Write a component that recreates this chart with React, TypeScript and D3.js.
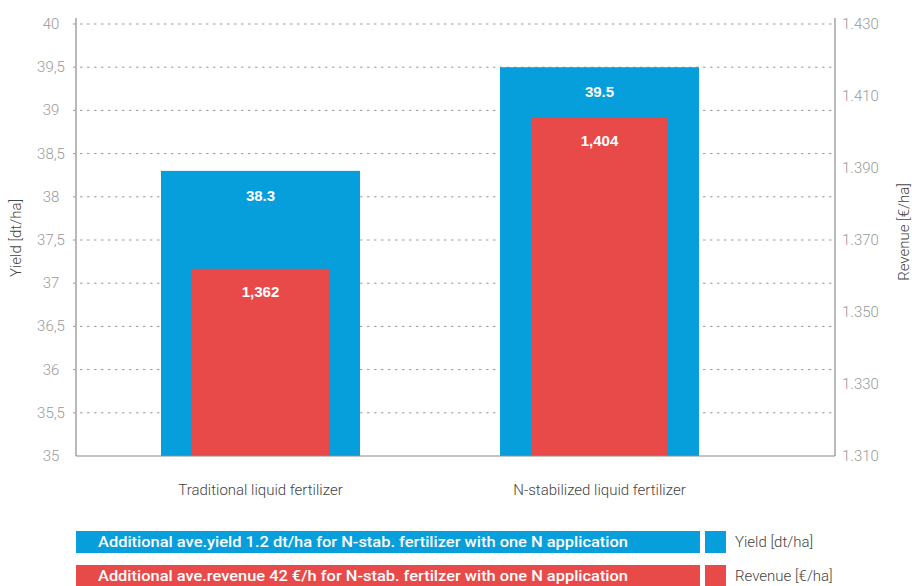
import React, { useEffect } from 'react';
import * as d3 from 'd3';

// data
const categories = ['Traditional liquid fertilizer', 'N-stabilized liquid fertilizer'];
const yieldValues = [38.3, 39.5];
const revenueValues = [1362, 1404];
const yieldTicks = [35, 35.5, 36, 36.5, 37, 37.5, 38, 38.5, 39, 39.5, 40];
const revenueTicks = [1310, 1330, 1350, 1370, 1390, 1410, 1430];
const notes = [
  'Additional ave.yield 1.2 dt/ha for N-stab. fertilizer with one N application',
  'Additional ave.revenue 42 €/h for N-stab. fertilzer with one N application',
];
const legendLabels = ['Yield [dt/ha]', 'Revenue [€/ha]'];

const BLUE = '#069edb';
const RED = '#e84a4a';
const AXIS = '#8a8a8a';
const FONT = '"Liberation Sans", Arial, sans-serif';
const LIGHT = 'Roboto, "Liberation Sans", sans-serif';

const deLocale = d3.formatLocale({ decimal: ',', thousands: '.', grouping: [3], currency: ['', '€'] });
const fmtLeft = deLocale.format('~g');
const fmtRight = deLocale.format(',.0f');
const fmtRevenue = d3.format(',.0f');

const App = () => {
  useEffect(() => {
    document.body.style.margin = '0';
  }, []);

  const left = 76, right = 835, top = 24, bottom = 456;

  const y = d3.scaleLinear().domain([35, 40]).range([bottom, top]);
  const yR = d3.scaleLinear().domain([1310, 1430]).range([bottom, top]);
  const x = d3.scaleBand<string>().domain(categories).range([161, 699]).paddingInner(0.413).paddingOuter(0);
  const bw = x.bandwidth();
  const redW = 137;

  const colors = [BLUE, RED];

  return (
    <svg width={912} height={586} style={{ display: 'block', fontFamily: FONT }}>
      {/* grid */}
      {yieldTicks.filter(t => t > 35).map(t => (
        <line key={'g' + t} x1={left - 3} x2={right - 2} y1={y(t)} y2={y(t)}
          stroke="#9a9a9a" strokeWidth={1} strokeDasharray="2.5,4.5" />
      ))}

      {/* bars */}
      {categories.map((c, i) => {
        const x0 = x(c)!;
        const cx = x0 + bw / 2;
        return (
          <g key={c}>
            <rect x={x0} y={y(yieldValues[i])} width={bw} height={bottom - y(yieldValues[i])} fill={BLUE} />
            <rect x={cx - redW / 2} y={yR(revenueValues[i])} width={redW} height={bottom - yR(revenueValues[i])} fill={RED} />
            <text x={cx} y={y(yieldValues[i]) + 30} textAnchor="middle" fill="#fff" fontWeight="bold" fontSize={15}>
              {yieldValues[i].toFixed(1)}
            </text>
            <text x={cx} y={yR(revenueValues[i]) + 28} textAnchor="middle" fill="#fff" fontWeight="bold" fontSize={15}>
              {fmtRevenue(revenueValues[i])}
            </text>
            <text x={cx} y={495} textAnchor="middle" fill="#444" fontSize={15} fontFamily={LIGHT} fontWeight={300}>{c}</text>
          </g>
        );
      })}

      {/* axes */}
      <line x1={left} x2={left} y1={18} y2={bottom} stroke={AXIS} strokeWidth={1.2} />
      <line x1={right} x2={right} y1={18} y2={bottom} stroke={AXIS} strokeWidth={1.2} />
      <line x1={left} x2={right} y1={bottom} y2={bottom} stroke={AXIS} strokeWidth={1.2} />

      {yieldTicks.map(t => (
        <text key={'l' + t} x={51} y={y(t) + 5} textAnchor="middle" fill="#999" fontSize={15} fontFamily={LIGHT} fontWeight={300}>
          {fmtLeft(t)}
        </text>
      ))}
      {revenueTicks.map(t => (
        <text key={'r' + t} x={842} y={yR(t) + 5} fill="#999" fontSize={15} fontFamily={LIGHT} fontWeight={300}>
          {fmtRight(t)}
        </text>
      ))}

      <text transform="translate(21,238) rotate(-90)" textAnchor="middle" fill="#444" fontSize={15} fontFamily={LIGHT} fontWeight={300}>Yield [dt/ha]</text>
      <text transform="translate(909,232) rotate(-90)" textAnchor="middle" fill="#444" fontSize={15} fontFamily={LIGHT} fontWeight={300}>Revenue [€/ha]</text>

      {/* notes + legend */}
      {notes.map((n, i) => {
        const yy = 531 + i * 34;
        return (
          <g key={'n' + i}>
            <rect x={76} y={yy} width={624} height={22} fill={colors[i]} />
            <text x={98} y={yy + 16} fill="#fff" fontWeight={500} fontSize={15} fontFamily={LIGHT} textLength={530} lengthAdjust="spacingAndGlyphs">{n}</text>
            <rect x={705} y={yy} width={21} height={22} fill={colors[i]} />
            <text x={735} y={yy + 16} fill="#444" fontSize={15} fontFamily={LIGHT} fontWeight={300}>{legendLabels[i]}</text>
          </g>
        );
      })}
    </svg>
  );
};

export default App;
